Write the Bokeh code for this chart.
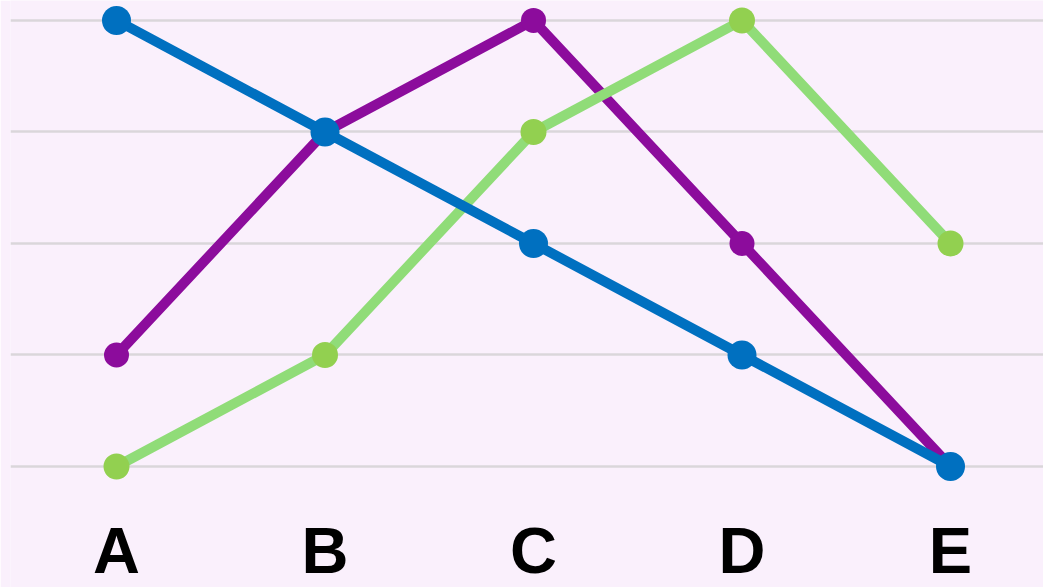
from bokeh.plotting import figure
from bokeh.models import FixedTicker, ColumnDataSource
from bokeh.core.properties import value
from bokeh.embed import file_html
from bokeh.resources import INLINE

categories = ["A", "B", "C", "D", "E"]
levels = [1, 2, 3, 4, 5]
blue_vals = [5, 4, 3, 2, 1]
purple_vals = [2, 4, 5, 3, 1]
green_vals = [1, 2, 4, 5, 3]

xs = list(range(len(categories)))
bg = "#faf0fc"

p = figure(width=1043, height=587, output_backend="svg", toolbar_location=None,
           x_range=(-0.5084, 4.446), y_range=(-0.085, 5.179),
           x_axis_location=None, y_axis_location=None,
           min_border_left=10, min_border_right=0, min_border_top=0, min_border_bottom=0,
           background_fill_color=bg, border_fill_color=bg, outline_line_color=None)

p.xgrid.grid_line_color = None
p.ygrid.ticker = FixedTicker(ticks=levels)
p.ygrid.grid_line_color = "#dad6da"
p.ygrid.grid_line_width = 2.5
p.ygrid.grid_line_alpha = 1.0

series = [
    (purple_vals, "#8c0c9c", "#8c0c9c", 10, 25),
    (green_vals, "#90dc78", "#92d050", 10, 26),
    (blue_vals, "#0070c0", "#0070c0", 10, 29),
]
for vals, lc, mc, lw, ms in series:
    src = ColumnDataSource(dict(x=xs, y=vals))
    p.line("x", "y", source=src, line_color=lc, line_width=lw, line_join="round")
    p.scatter("x", "y", source=src, size=ms, fill_color=mc, line_color=None)

lab = ColumnDataSource(dict(x=xs, y=[0.2466] * len(xs), t=categories))
p.text("x", "y", text="t", source=lab, text_align="center", text_baseline="middle",
       text_font=value("Liberation Sans"), text_font_style="bold",
       text_font_size="65px", text_color="#000000")

open("out.html", "w").write(file_html(p, INLINE))
